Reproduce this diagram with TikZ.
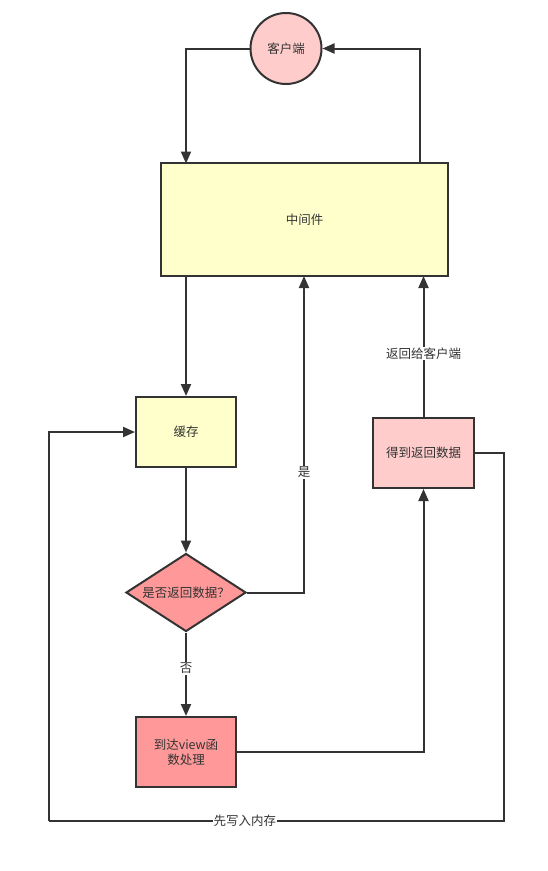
\documentclass[tikz,border=0pt]{standalone}
\usepackage{fontspec}
\setmainfont{Noto Sans CJK SC}
\usetikzlibrary{arrows.meta,shapes.geometric}
\definecolor{ln}{HTML}{333333}
\definecolor{yel}{HTML}{FFFFCC}
\definecolor{pink}{HTML}{FFCCCC}
\definecolor{salmon}{HTML}{FF9999}
\begin{document}
\begin{tikzpicture}[x=1pt,y=-1pt,
  every node/.style={font=\fontsize{12.5}{15}\selectfont, text=ln},
  box/.style={draw=ln, line width=2pt, inner sep=0pt, anchor=center},
  conn/.style={draw=ln, line width=2pt, -{Triangle[length=12pt,width=10pt]}},
  plain/.style={draw=ln, line width=2pt},
  lbl/.style={fill=white, inner sep=1pt}]
\useasboundingbox (0,0) rectangle (547,871);
\node[box, circle, fill=pink, minimum size=71pt] (client) at (286,48.5) {客户端};
\node[box, rectangle, fill=yel, minimum width=287pt, minimum height=113pt] (mid) at (304.5,219.5) {中间件};
\node[box, rectangle, fill=yel, minimum width=100pt, minimum height=70pt] (cache) at (186,432) {缓存};
\node[box, diamond, aspect=1.54, fill=salmon, minimum width=120pt, minimum height=78pt] (dec) at (186,592.5) {是否返回数据？};
\node[box, rectangle, fill=pink, minimum width=101pt, minimum height=70pt] (get) at (423.5,453) {得到返回数据};
\node[box, rectangle, fill=salmon, minimum width=100pt, minimum height=70pt, align=center] (view) at (186,752) {到达view函\\数处理};

\coordinate (midTL) at (186,163.5);
\coordinate (midTR) at (419.5,163.5);
\draw[conn] (client.west) -| (midTL);
\draw[conn] (midTR) |- (client.east);
\draw[conn] (186,276) -- (cache.north);
\draw[conn] (cache.south) -- (dec.north);
\draw[conn] (dec.east) -| node[lbl, pos=0.69] {是} (304,276);
\draw[conn] (get.north) -- node[lbl, pos=0.45] {返回给客户端} (423.5,276);
\draw[conn] (dec.south) -- node[lbl, pos=0.43] {否} (view.north);
\draw[conn] (view.east) -| (get.south);
\coordinate (br) at (504,821);
\coordinate (bl) at (48.5,821);
\draw[plain] (get.east) -| (br) -- node[lbl, pos=0.569] {先写入内存} (bl);
\draw[conn] (bl) |- (cache.west);
\end{tikzpicture}
\end{document}
